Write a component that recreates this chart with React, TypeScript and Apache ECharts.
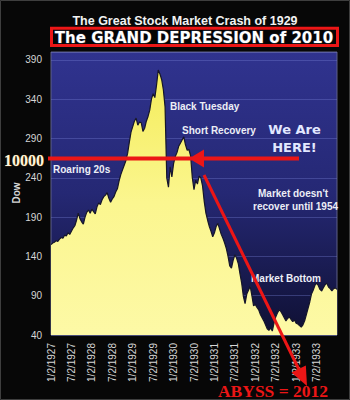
import React, { useEffect, useRef } from "react";
import * as echarts from "echarts";

// Dow Jones Industrial Average, sampled twice a month from Jan 1927 to the end of 1933
const dow: number[] = [
  155, 157, 158, 160, 159, 162, 164, 163, 167, 166, 170, 168,
  172, 176, 179, 186, 195, 188, 184, 181, 190, 196, 199, 195,
  200, 197, 194, 203, 208, 206, 212, 216, 218, 221, 214, 209,
  213, 216, 222, 226, 236, 244, 250, 256, 262, 271, 285, 298,
  305, 312, 316, 307, 311, 310, 299, 303, 312, 318, 326, 340,
  347, 342, 358, 377, 372, 365, 352, 330, 240, 228, 254, 241,
  258, 267, 272, 280, 284, 288, 292, 282, 275, 276, 268, 240,
  225, 237, 232, 242, 240, 230, 210, 195, 186, 178, 172, 165,
  170, 178, 182, 175, 168, 163, 157, 150, 140, 128, 125, 135,
  142, 138, 131, 118, 106, 89, 80, 92, 97, 102, 90, 77,
  79, 75, 72, 66, 62, 58, 53, 48, 46, 49, 45, 55,
  63, 68, 72, 70, 66, 62, 58, 61, 63, 60, 57, 59,
  55, 54, 52, 50, 53, 58, 66, 74, 82, 92, 97, 103,
  106, 103, 98, 96, 100, 104, 106, 101, 99, 96, 99, 100,
  98,
];

// Half-yearly date ticks along the bottom axis
const tickLabels: string[] = [
  "1/2/1927", "7/2/1927", "1/2/1928", "7/2/1928", "1/2/1929", "7/2/1929", "1/2/1930",
  "7/2/1930", "1/2/1931", "7/2/1931", "1/2/1932", "7/2/1932", "1/2/1933", "7/2/1933",
];

const POINTS_PER_TICK = 12;
const categories: string[] = dow.map((_, i) =>
  i % POINTS_PER_TICK === 0 && tickLabels[i / POINTS_PER_TICK] ? tickLabels[i / POINTS_PER_TICK] : ""
);

const SANS = "'Liberation Sans', Arial, sans-serif";
const VERDANA = "'DejaVu Sans', Verdana, sans-serif";
const SERIF = "'Liberation Serif', 'Times New Roman', serif";
const RED = "#ec1616";

const note = (text: string, x: number, y: number, size = 10) => ({
  type: "text",
  x,
  y,
  z: 50,
  style: {
    text,
    fill: "#eceef6",
    font: `bold ${size}px ${SANS}`,
    align: "left",
    verticalAlign: "middle",
    textAlign: "left",
    textVerticalAlign: "middle",
  },
});

function buildOption() {
  // arrow pointing down-right toward the abyss
  const tip = [307, 386];
  const from = [204, 175];
  const dx = tip[0] - from[0];
  const dy = tip[1] - from[1];
  const len = Math.hypot(dx, dy);
  const ux = dx / len;
  const uy = dy / len;
  const headLen = 19;
  const halfW = 8;
  const bx = tip[0] - ux * headLen;
  const by = tip[1] - uy * headLen;
  const px = -uy * halfW;
  const py = ux * halfW;

  return {
    animation: false,
    backgroundColor: "#070707",
    grid: {
      left: 51,
      right: 13,
      top: 52,
      bottom: 65,
      show: true,
      borderColor: "#5e6088",
      borderWidth: 1,
      backgroundColor: new echarts.graphic.LinearGradient(0, 0, 0, 1, [
        { offset: 0, color: "#30338f" },
        { offset: 0.5, color: "#252874" },
        { offset: 1, color: "#0f1033" },
      ]),
    },
    xAxis: {
      type: "category",
      data: categories,
      boundaryGap: false,
      axisLine: { show: false },
      axisTick: { show: false },
      splitLine: { show: false },
      axisLabel: {
        interval: (i: number) => i % POINTS_PER_TICK === 0,
        rotate: 90,
        color: "#d6d6d6",
        fontSize: 10,
        fontFamily: SANS,
        margin: 8,
      },
    },
    yAxis: {
      type: "value",
      min: 40,
      max: 400,
      interval: 50,
      axisLine: { show: false },
      axisTick: { show: false },
      axisLabel: {
        color: "#d6d6d6",
        fontSize: 10,
        fontFamily: SANS,
        margin: 9,
        showMaxLabel: false,
      },
      splitLine: { lineStyle: { color: "rgba(120,128,215,0.35)", width: 1 } },
    },
    series: [
      {
        type: "line",
        data: dow,
        symbol: "none",
        lineStyle: { color: "#16162a", width: 1.2 },
        areaStyle: {
          origin: "start",
          opacity: 1,
          color: new echarts.graphic.LinearGradient(0, 0, 0, 1, [
            { offset: 0, color: "#f4ec5a" },
            { offset: 0.5, color: "#fbf68f" },
            { offset: 1, color: "#fdf9a6" },
          ]),
        },
      },
    ],
    graphic: {
      elements: [
        {
          type: "text",
          x: 185,
          y: 21,
          style: {
            text: "The Great Stock Market Crash of 1929",
            fill: "#f2f2f2",
            font: `bold 12.5px ${SANS}`,
            align: "center",
            verticalAlign: "middle",
            textAlign: "center",
            textVerticalAlign: "middle",
          },
        },
        {
          type: "rect",
          shape: { x: 51.5, y: 28.2, width: 286, height: 17.3 },
          style: { fill: "#050505", stroke: RED, lineWidth: 3 },
        },
        {
          type: "text",
          x: 194,
          y: 37.5,
          style: {
            text: "The GRAND DEPRESSION of 2010",
            fill: "#ffffff",
            stroke: "#2a2a3a",
            lineWidth: 1,
            font: `bold 15px ${VERDANA}`,
            align: "center",
            verticalAlign: "middle",
            textAlign: "center",
            textVerticalAlign: "middle",
          },
        },
        {
          type: "text",
          x: 16,
          y: 193,
          rotation: Math.PI / 2,
          style: {
            text: "Dow",
            fill: "#d6d6d6",
            font: `bold 10px ${SANS}`,
            align: "center",
            verticalAlign: "middle",
            textAlign: "center",
            textVerticalAlign: "middle",
          },
        },
        {
          type: "text",
          x: 24,
          y: 160,
          style: {
            text: "10000",
            fill: "#fff6dc",
            stroke: "#7a4a10",
            lineWidth: 0.6,
            font: `bold 16px ${SERIF}`,
            align: "center",
            verticalAlign: "middle",
            textAlign: "center",
            textVerticalAlign: "middle",
          },
        },
        note("Roaring 20s", 53, 169),
        note("Black Tuesday", 170, 106),
        note("Short Recovery", 182, 130),
        note("Market doesn't", 258, 193),
        note("recover until 1954", 253, 206),
        note("Market Bottom", 251, 278),
        {
          type: "text",
          x: 294.5,
          y: 129,
          z: 50,
          style: {
            text: "We Are",
            fill: "#e2e8ff",
            font: `bold 13px ${VERDANA}`,
            align: "center",
            verticalAlign: "middle",
            textAlign: "center",
            textVerticalAlign: "middle",
          },
        },
        {
          type: "text",
          x: 294.5,
          y: 147,
          z: 50,
          style: {
            text: "HERE!",
            fill: "#e2e8ff",
            font: `bold 13px ${VERDANA}`,
            align: "center",
            verticalAlign: "middle",
            textAlign: "center",
            textVerticalAlign: "middle",
          },
        },
        // "we are here" marker line with its left-pointing head
        {
          type: "line",
          z: 60,
          shape: { x1: 48, y1: 158.5, x2: 192, y2: 158.5 },
          style: { stroke: RED, lineWidth: 4 },
        },
        {
          type: "line",
          z: 60,
          shape: { x1: 202, y1: 158.5, x2: 299, y2: 158.5 },
          style: { stroke: RED, lineWidth: 4 },
        },
        {
          type: "polygon",
          z: 60,
          shape: { points: [[189, 158.5], [204, 149.5], [204, 167.5]] },
          style: { fill: RED },
        },
        // plunge toward the abyss
        {
          type: "line",
          z: 60,
          shape: { x1: from[0], y1: from[1], x2: bx + ux * 2, y2: by + uy * 2 },
          style: { stroke: RED, lineWidth: 3 },
        },
        {
          type: "polygon",
          z: 60,
          shape: { points: [tip, [bx + px, by + py], [bx - px, by - py]] },
          style: { fill: RED },
        },
        {
          type: "text",
          x: 273,
          y: 391,
          z: 60,
          style: {
            text: "ABYSS = 2012",
            fill: RED,
            font: `bold 17.5px ${SERIF}`,
            align: "center",
            verticalAlign: "middle",
            textAlign: "center",
            textVerticalAlign: "middle",
          },
        },
        {
          type: "rect",
          z: 70,
          shape: { x: 0.5, y: 0.5, width: 349, height: 399 },
          style: { fill: "none", stroke: "#3e3e3e", lineWidth: 1 },
        },
      ],
    },
  };
}

export default function App() {
  const ref = useRef<HTMLDivElement>(null);

  useEffect(() => {
    if (!ref.current) return;
    const chart = echarts.init(ref.current, null, { renderer: "svg" });
    chart.setOption(buildOption() as any);
    return () => chart.dispose();
  }, []);

  return (
    <div
      ref={ref}
      style={{ position: "fixed", left: 0, top: 0, width: 350, height: 400 }}
    />
  );
}
